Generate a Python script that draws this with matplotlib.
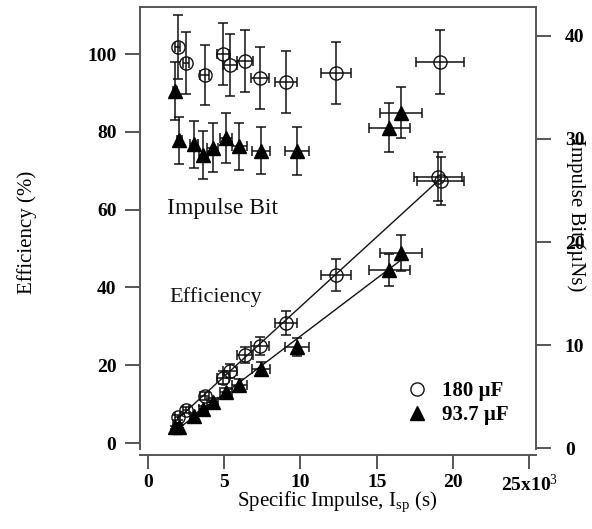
import matplotlib
matplotlib.use("Agg")
import matplotlib.pyplot as plt
from matplotlib.lines import Line2D
import numpy as np

# ---- data (Isp in units of 10^3 s) ----
c_isp = [1.96, 2.51, 3.73, 4.91, 5.39, 6.37, 7.33, 9.06, 12.35, 19.14]
c_isp_err = [0.16, 0.20, 0.30, 0.39, 0.43, 0.51, 0.59, 0.72, 0.99, 1.55]
c_ib = [38.95, 37.34, 36.24, 38.27, 37.18, 37.56, 35.89, 35.56, 36.40, 37.44]
c_ib_err = [3.1, 3.0, 2.9, 3.0, 3.0, 3.0, 3.0, 3.0, 3.0, 3.1]

c_eff_isp = [1.96, 2.51, 3.73, 4.91, 5.39, 6.37, 7.33, 9.06, 12.35, 19.01, 19.19]
c_eff_isp_err = [0.16, 0.20, 0.30, 0.39, 0.43, 0.51, 0.59, 0.72, 0.99, 1.55, 1.55]
c_eff = [6.6, 8.4, 12.1, 16.8, 18.6, 22.6, 24.9, 30.9, 43.2, 68.5, 67.4]
c_eff_err = [0.6, 0.8, 1.1, 1.6, 1.8, 2.1, 2.4, 3.1, 4.0, 6.2, 6.2]

t_isp = [1.77, 2.07, 3.03, 3.64, 4.25, 5.13, 6.00, 7.40, 9.76, 15.82, 16.59]
t_isp_err = [0.14, 0.17, 0.24, 0.29, 0.34, 0.41, 0.48, 0.59, 0.79, 1.34, 1.35]
t_ib = [34.65, 29.87, 29.47, 28.45, 29.16, 30.08, 29.29, 28.88, 28.84, 31.11, 32.55]
t_ib_err = [2.8, 2.3, 2.3, 2.3, 2.4, 2.4, 2.3, 2.3, 2.3, 2.4, 2.5]
t_eff = [4.0, 4.2, 6.9, 8.7, 10.6, 13.0, 15.0, 19.0, 24.6, 44.5, 48.8]
t_eff_err = [0.4, 0.4, 0.7, 0.8, 1.0, 1.2, 1.4, 1.8, 2.3, 4.2, 4.6]

x_ticks = [0, 5, 10, 15, 20, 25]
x_ticklabels = ['0', '5', '10', '15', '20', '25x10$^{3}$']
eff_ticks = [0, 20, 40, 60, 80, 100]
ib_ticks = [0, 10, 20, 30, 40]
legend_labels = ['180 µF', '93.7 µF']

# ---- style ----
plt.rcParams['font.family'] = ['Liberation Serif', 'DejaVu Serif']
plt.rcParams['mathtext.fontset'] = 'custom'
plt.rcParams['mathtext.rm'] = 'Liberation Serif'
plt.rcParams['mathtext.it'] = 'Liberation Serif:italic'
plt.rcParams['mathtext.bf'] = 'Liberation Serif:bold'

spine_col = '#555555'
ink = '#111111'

fig = plt.figure(figsize=(5.92, 5.29), dpi=100)
ax = fig.add_axes([140/592, 1-449/529, (535.7-140)/592, (449-7)/529])
ax2 = ax.twinx()

ax.set_xlim(-0.5, 25.41)
ax.set_ylim(-1.54, 112.1)
ax2.set_ylim(-0.07, 42.8)

eb_kw = dict(fmt='none', ecolor=ink, elinewidth=1.1, capsize=3.5, capthick=1.1, zorder=2)

# efficiency (left axis)
ax.errorbar(c_eff_isp, c_eff, yerr=c_eff_err, xerr=c_eff_isp_err, **eb_kw)
ax.errorbar(t_isp, t_eff, yerr=t_eff_err, xerr=t_isp_err, **eb_kw)
for xs, ys in [(c_eff_isp, c_eff), (t_isp, t_eff)]:
    p = np.polyfit(xs, ys, 1)
    xx = np.array([min(xs), max(xs)])
    ax.plot(xx, np.polyval(p, xx), color=ink, lw=1.0, zorder=1)
ax.plot(c_eff_isp, c_eff, 'o', ms=9.5, mfc='none', mec=ink, mew=1.0, zorder=3)
ax.plot(t_isp, t_eff, '^', ms=9.5, mfc='black', mec='black', zorder=3)

# impulse bit (right axis)
ax2.errorbar(c_isp, c_ib, yerr=c_ib_err, xerr=c_isp_err, **eb_kw)
ax2.errorbar(t_isp, t_ib, yerr=t_ib_err, xerr=t_isp_err, **eb_kw)
ax2.plot(c_isp, c_ib, 'o', ms=9.5, mfc='none', mec=ink, mew=1.0, zorder=3)
ax2.plot(t_isp, t_ib, '^', ms=9.5, mfc='black', mec='black', zorder=3)

# spines
for a in (ax, ax2):
    for s in a.spines.values():
        s.set_color(spine_col)
        s.set_linewidth(1.4)
ax.spines['right'].set_visible(False)
ax2.spines['left'].set_visible(False)
ax2.spines['bottom'].set_visible(False)
ax2.spines['top'].set_visible(False)
ax.spines['bottom'].set_position(('outward', 4))

tick_font = dict(fontsize=14, fontweight='bold')
ax.set_xticks(x_ticks)
ax.set_xticklabels(x_ticklabels, **tick_font)
ax.set_yticks(eff_ticks)
ax.set_yticklabels([str(v) for v in eff_ticks], **tick_font)
ax2.set_yticks(ib_ticks)
ax2.set_yticklabels([str(v) for v in ib_ticks], **tick_font)

ax.tick_params(axis='x', direction='out', length=10, width=1.4, color=spine_col, pad=4)
ax.tick_params(axis='y', direction='out', length=11, width=1.4, color=spine_col, pad=6)
ax2.tick_params(axis='y', direction='out', length=11, width=1.4, color=spine_col, pad=10)

ax.set_xlabel('Specific Impulse, I$_{\\mathrm{sp}}$ (s)', fontsize=15)
ax.xaxis.set_label_coords(0.498, -0.12)
ax.xaxis.label.set_va('center')
ax.set_ylabel('Efficiency (%)', fontsize=15)
ax.yaxis.set_label_coords(-0.285, 0.491)
ax.yaxis.label.set_va('center')
ax2.set_ylabel('Impulse Bit (µNs)', fontsize=15, rotation=270)
ax2.yaxis.set_label_coords(1.102, 0.529)
ax2.yaxis.label.set_va('center')
ax2.yaxis.label.set_ha('center')

ax.text(0.067, 0.545, 'Impulse Bit', transform=ax.transAxes, fontsize=17, va='center', ha='left', color=ink)
ax.text(0.074, 0.343, 'Efficiency', transform=ax.transAxes, fontsize=16, va='center', ha='left', color=ink)

handles = [Line2D([], [], ls='none', marker='o', ms=9.5, mfc='none', mec=ink, mew=1.0),
           Line2D([], [], ls='none', marker='^', ms=9.5, mfc='black', mec='black')]
ax2.legend(handles, legend_labels, loc='center', bbox_to_anchor=(0.799, 0.104),
           frameon=False, prop=dict(size=15, weight='bold'), handletextpad=0.6,
           labelspacing=0.2, handlelength=1.2)

fig.savefig('out.png', dpi=100)
